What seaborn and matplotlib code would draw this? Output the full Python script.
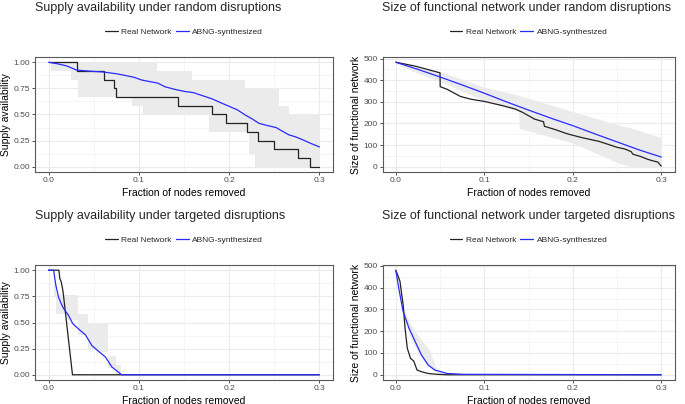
import numpy as np
import pandas as pd
import seaborn as sns
import matplotlib.pyplot as plt
from matplotlib.ticker import AutoMinorLocator, FormatStrFormatter

sns.set_theme(style='white')
plt.rcParams['font.family'] = ['Liberation Sans', 'DejaVu Sans']

# ---- data ----
frac_ticks = [0.0, 0.1, 0.2, 0.3]
supply_ticks = [0.0, 0.25, 0.5, 0.75, 1.0]
size_ticks = [0, 100, 200, 300, 400, 500]

# supply availability, random disruptions
rs_real_x = [0, 0.031, 0.061, 0.072, 0.0748, 0.143, 0.181, 0.196, 0.220, 0.232, 0.250, 0.276, 0.290, 0.300]
rs_real_y = [1.0, 0.917, 0.833, 0.75, 0.667, 0.583, 0.5, 0.417, 0.333, 0.25, 0.167, 0.083, 0.0, 0.0]
rs_abng_x = [0, 0.01, 0.02, 0.031, 0.045, 0.061, 0.075, 0.084, 0.095, 0.103, 0.112, 0.121, 0.129,
             0.14, 0.151, 0.16, 0.167, 0.174, 0.181, 0.19, 0.2, 0.209, 0.218, 0.226, 0.233, 0.242,
             0.252, 0.259, 0.266, 0.274, 0.281, 0.29, 0.3]
rs_abng_y = [1.0, 0.985, 0.965, 0.925, 0.915, 0.906, 0.89, 0.875, 0.855, 0.83, 0.815, 0.80, 0.765,
             0.74, 0.72, 0.71, 0.69, 0.67, 0.65, 0.615, 0.578, 0.545, 0.494, 0.455, 0.416, 0.395,
             0.375, 0.34, 0.306, 0.285, 0.26, 0.225, 0.19]
rs_band_x = [0, 0.003, 0.0244, 0.0326, 0.092, 0.105, 0.120, 0.159, 0.178, 0.217, 0.222, 0.229, 0.255, 0.266, 0.3]
rs_band_hi = [1, 1, 1, 1, 1, 1, 0.917, 0.833, 0.833, 0.75, 0.75, 0.75, 0.583, 0.5, 0.5]
rs_band_lo = [1, 0.917, 0.833, 0.667, 0.583, 0.5, 0.5, 0.5, 0.333, 0.333, 0.125, 0, 0, 0, 0]

# size of functional network, random disruptions
rn_real_x = [0, 0.022, 0.0500, 0.0502, 0.058, 0.073, 0.085, 0.1, 0.12, 0.135, 0.143, 0.157, 0.167,
             0.168, 0.18, 0.194, 0.21, 0.23, 0.25, 0.259, 0.266, 0.268, 0.277, 0.285, 0.29, 0.296, 0.3]
rn_real_y = [483, 465, 434, 370, 358, 325, 312, 302, 283, 267, 252, 220, 208,
             187, 172, 152, 135, 117, 90, 82, 70, 58, 47, 34, 28, 22, 3]
rn_abng_x = [0, 0.025, 0.05, 0.075, 0.1, 0.125, 0.15, 0.175, 0.2, 0.225, 0.25, 0.275, 0.3]
rn_abng_y = [483, 450, 415, 378, 340, 300, 262, 225, 190, 152, 115, 78, 45]
rn_band_x = [0, 0.02, 0.05, 0.1, 0.139, 0.1395, 0.2, 0.25, 0.265, 0.3]
rn_band_hi = [483, 465, 440, 368, 330, 329, 255, 195, 180, 135]
rn_band_lo = [480, 440, 395, 305, 255, 178, 110, 20, 0, 0]

# supply availability, targeted disruptions
ts_real_x = [0, 0.0115, 0.0125, 0.014, 0.016, 0.0265, 0.3]
ts_real_y = [1, 1, 0.92, 0.89, 0.8, 0, 0]
ts_abng_x = [0, 0.0056, 0.008, 0.011, 0.014, 0.0167, 0.022, 0.0267, 0.033, 0.041, 0.048, 0.056,
             0.063, 0.070, 0.080, 0.081, 0.3]
ts_abng_y = [1, 1, 0.86, 0.745, 0.68, 0.634, 0.57, 0.49, 0.44, 0.38, 0.28, 0.22,
             0.17, 0.076, 0.006, 0, 0]
ts_band_x = [0, 0.006, 0.0086, 0.0197, 0.0326, 0.0437, 0.0548, 0.0659, 0.0752, 0.08, 0.3]
ts_band_hi = [1, 0.9, 0.76, 0.76, 0.58, 0.5, 0.5, 0.18, 0.09, 0, 0]
ts_band_lo = [1, 0.75, 0.58, 0.52, 0.38, 0.25, 0.22, 0.06, 0, 0, 0]

# size of functional network, targeted disruptions
tn_real_x = [0, 0.002, 0.0047, 0.0083, 0.0105, 0.013, 0.0167, 0.0203, 0.024, 0.029, 0.0366, 0.047, 0.058, 0.3]
tn_real_y = [480, 460, 430, 322, 214, 122, 75, 63, 22, 14, 6, 2, 0, 0]
tn_abng_x = [0, 0.004, 0.0083, 0.0149, 0.022, 0.029, 0.0366, 0.044, 0.058, 0.076, 0.3]
tn_abng_y = [480, 383, 291, 214, 152, 91, 45, 22, 6, 2, 0]
tn_band_x = [0, 0.005, 0.01, 0.015, 0.02, 0.025, 0.03, 0.035, 0.038, 0.045, 0.05, 0.06, 0.1, 0.3]
tn_band_hi = [480, 390, 300, 245, 210, 180, 155, 130, 115, 35, 15, 6, 1, 0]
tn_band_lo = [480, 370, 265, 190, 140, 105, 75, 50, 38, 15, 5, 2, 0, 0]

panels = [
    dict(title='Supply availability under random disruptions', ylabel='Supply availability',
         real=(rs_real_x, rs_real_y, 'steps-post'), abng=(rs_abng_x, rs_abng_y),
         band=(rs_band_x, rs_band_lo, rs_band_hi, 'post'), yticks=supply_ticks, fmt='%.2f',
         rect=(35, 57, 333, 172), ylab_x=-0.082),
    dict(title='Size of functional network under random disruptions', ylabel='Size of functional network',
         real=(rn_real_x, rn_real_y, 'default'), abng=(rn_abng_x, rn_abng_y),
         band=(rn_band_x, rn_band_lo, rn_band_hi, None), yticks=size_ticks, fmt='%d',
         rect=(382.5, 57, 674.5, 172), ylab_x=-0.072),
    dict(title='Supply availability under targeted disruptions', ylabel='Supply availability',
         real=(ts_real_x, ts_real_y, 'default'), abng=(ts_abng_x, ts_abng_y),
         band=(ts_band_x, ts_band_lo, ts_band_hi, 'post'), yticks=supply_ticks, fmt='%.2f',
         rect=(35, 265, 333, 380), ylab_x=-0.082),
    dict(title='Size of functional network under targeted disruptions', ylabel='Size of functional network',
         real=(tn_real_x, tn_real_y, 'default'), abng=(tn_abng_x, tn_abng_y),
         band=(tn_band_x, tn_band_lo, tn_band_hi, None), yticks=size_ticks, fmt='%d',
         rect=(382.5, 265, 674.5, 380), ylab_x=-0.072),
]

W, H = 685, 404
fig = plt.figure(figsize=(W / 100, H / 100), dpi=100)

for p in panels:
    l, t, r, b = p['rect']
    ax = fig.add_axes([l / W, 1 - b / H, (r - l) / W, (b - t) / H])

    bx, blo, bhi, bstep = p['band']
    ax.fill_between(bx, blo, bhi, step=bstep, color='#ebebeb', lw=0, zorder=1)

    rx, ry, rstyle = p['real']
    sns.lineplot(x=rx, y=ry, color='#222222', lw=0.9, drawstyle=rstyle, estimator=None,
                 sort=False, label='Real Network', ax=ax, zorder=3)
    axx, axy = p['abng']
    sns.lineplot(x=axx, y=axy, color='#2a2aff', lw=0.9, estimator=None, sort=False,
                 label='ABNG-synthesized', ax=ax, zorder=4)

    ymax = max(bhi + list(ry) + list(axy))
    pad = 0.05 * ymax
    ax.set_ylim(-pad, ymax + pad)
    ax.set_xlim(-0.015, 0.315)
    ax.set_xticks(frac_ticks)
    ax.set_yticks(p['yticks'])
    ax.xaxis.set_major_formatter(FormatStrFormatter('%.1f'))
    ax.yaxis.set_major_formatter(FormatStrFormatter(p['fmt']))
    ax.xaxis.set_minor_locator(AutoMinorLocator(2))
    ax.yaxis.set_minor_locator(AutoMinorLocator(2))
    ax.grid(which='major', color='#ebebeb', lw=0.8, zorder=0)
    ax.grid(which='minor', color='#f2f2f2', lw=0.5, zorder=0)
    ax.set_axisbelow(True)
    ax.tick_params(which='major', length=2, width=0.6, color='#333333', pad=1.5,
                   labelsize=6, labelcolor='#4d4d4d', bottom=True, left=True)
    ax.tick_params(which='minor', length=0)
    for s in ax.spines.values():
        s.set_color('#5a5a5a')
        s.set_linewidth(0.8)

    ax.set_xlabel('Fraction of nodes removed', fontsize=7.5, color='black')
    ax.set_ylabel(p['ylabel'], fontsize=7.5, color='black')
    ax.xaxis.set_label_coords(0.5, -0.135)
    ax.yaxis.set_label_coords(p['ylab_x'], 0.5)

    ax.legend(loc='center', bbox_to_anchor=(0.5, 1.22), ncol=2, frameon=False, fontsize=6,
              handlelength=1.55, handletextpad=0.4, columnspacing=0.5, borderpad=0)

    fig.text(l / W, 1 - (t - 55) / H, p['title'], fontsize=9, ha='left', va='top')

fig.savefig('out.png', dpi=100)
